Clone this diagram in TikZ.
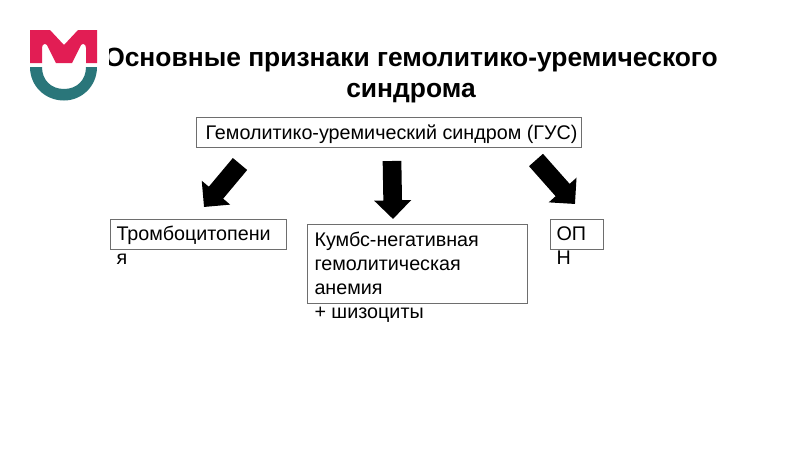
\documentclass[tikz,border=0pt]{standalone}
\usepackage{fontspec}
\setmainfont{Liberation Sans}
\usetikzlibrary{arrows.meta}
\definecolor{logored}{RGB}{226,29,84}
\definecolor{logoteal}{RGB}{42,118,122}
\tikzset{
	every picture/.style={line width=0.75pt},
	textbox/.style={draw={rgb,255:red,110;green,110;blue,110},line width=0.75pt,inner sep=0pt,anchor=north west},
	boxtext/.style={anchor=north west,inner sep=0pt,font=\fontsize{14.8pt}{18pt}\selectfont,align=left},
	titletext/.style={inner sep=0pt,font=\bfseries\fontsize{19.8pt}{24pt}\selectfont},
	bigarrow/.style={line width=14pt,-{Triangle[length=14pt,width=27pt]}}
}

\begin{document}
\begin{tikzpicture}[x=0.75pt,y=0.75pt,yscale=-1,xscale=1]
	\useasboundingbox (0,0) rectangle (800,450);

	% Title
	\node (title1) [titletext] at (411,60) {Основные признаки гемолитико-уремического};
	\node (title2) [titletext] at (411,93) {синдрома};

	% Logo
	\fill [white] (20,20) rectangle (109,110);
	\fill [logored] (30,30) -- (50,30) -- (64,45) -- (78,30) -- (97,30) -- (97,63) -- (86,63) -- (86,48) .. controls (86,44) and (83,43) .. (81,45) -- (72,63) -- (56,63) -- (47,45) .. controls (45,43) and (42,44) .. (42,48) -- (42,63) -- (30,63) -- cycle ;
	\fill [logoteal] (30,67) -- (42,67) .. controls (42,80) and (51,89) .. (64,89) .. controls (77,89) and (86,80) .. (86,67) -- (97,67) .. controls (97,86) and (82,100.5) .. (64,100.5) .. controls (45,100.5) and (30,86) .. (30,67) -- cycle ;

	% Boxes
	\node (hus) [textbox,minimum width=289pt,minimum height=22.5pt] at (196,117) {};
	\node (husText) [boxtext,anchor=center] at (391.5,134) {Гемолитико-уремический синдром (ГУС)};
	\node (thr) [textbox,minimum width=132pt,minimum height=22.5pt] at (110,219) {};
	\node (thrText) [boxtext] at (116,226) {Тромбоцитопени\\я};
	\node (kumbs) [textbox,minimum width=165pt,minimum height=59pt] at (307,224) {};
	\node (kumbsText) [boxtext] at (314,232) {Кумбс-негативная\\гемолитическая\\анемия\\+ шизоциты};
	\node (opn) [textbox,minimum width=40pt,minimum height=22.5pt] at (550,219) {};
	\node (opnText) [boxtext] at (556,226) {ОП\\Н};

	% Arrows
	\coordinate (leftTail) at (240,164);
	\coordinate (leftTip) at (204,207);
	\coordinate (midTail) at (392,161);
	\coordinate (midTip) at (393,219);
	\coordinate (rightTail) at (536,160);
	\coordinate (rightTip) at (575,204);
	\draw [bigarrow] (leftTail) -- (leftTip);
	\draw [bigarrow] (midTail) -- (midTip);
	\draw [bigarrow] (rightTail) -- (rightTip);

\end{tikzpicture}
\end{document}
